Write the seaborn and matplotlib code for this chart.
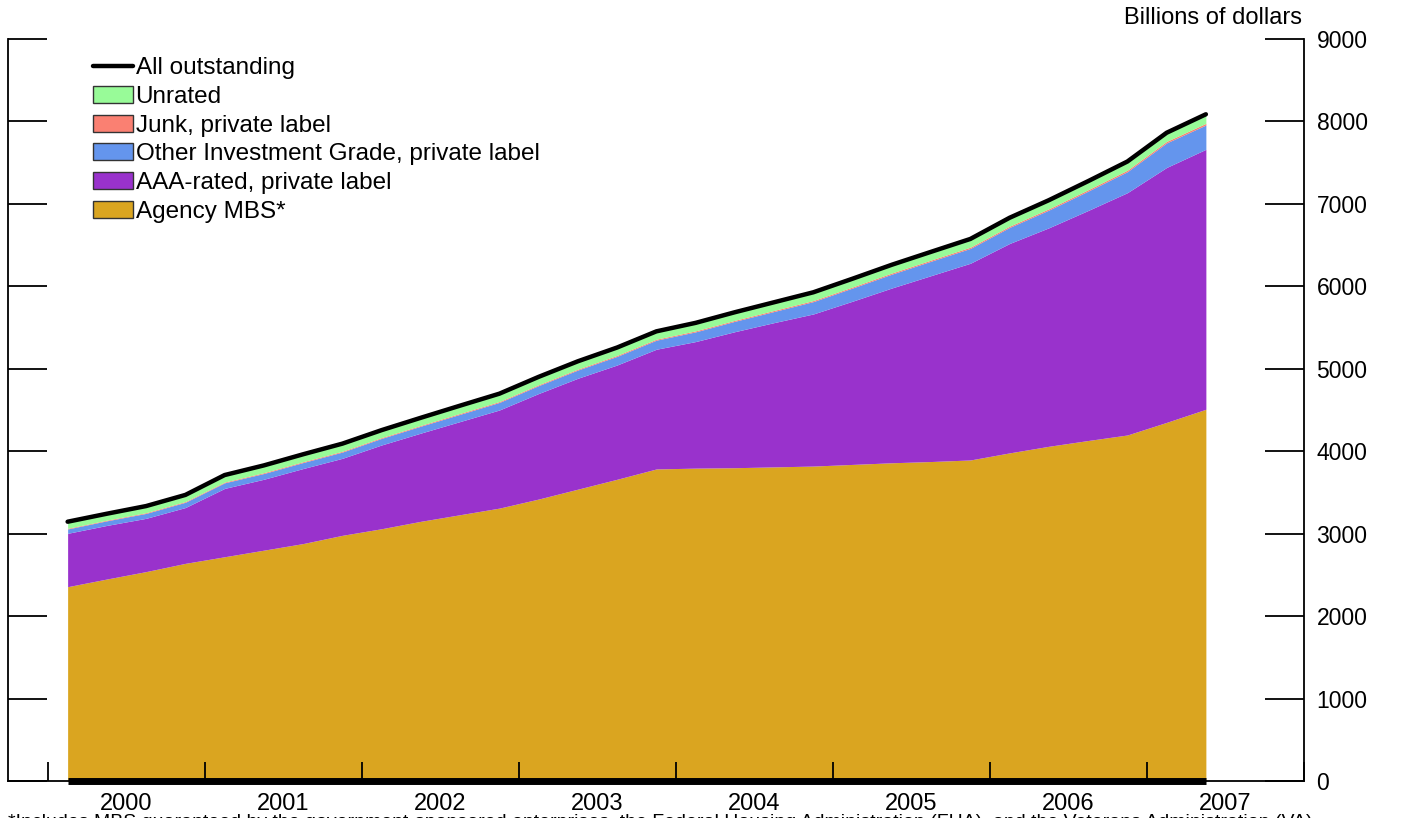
import matplotlib
matplotlib.use("Agg")
import numpy as np
import pandas as pd
import matplotlib.pyplot as plt
import seaborn as sns
from matplotlib.lines import Line2D
from matplotlib.patches import Patch

# quarterly data, billions of dollars
quarters = pd.period_range("2000Q1", "2007Q2", freq="Q")

agency = [2357, 2450, 2540, 2640, 2720, 2800, 2880, 2980, 3060, 3150,
          3230, 3310, 3420, 3540, 3660, 3785, 3795, 3800, 3810, 3820,
          3840, 3860, 3875, 3894, 3980, 4060, 4130, 4197, 4350, 4509]
aaa = [647, 650, 646, 677, 829, 860, 910, 934, 1016, 1070,
       1130, 1190, 1280, 1345, 1386, 1452, 1535, 1650, 1750, 1845,
       1980, 2120, 2255, 2386, 2540, 2650, 2790, 2939, 3092, 3153]
other_ig = [53, 56, 60, 64, 68, 70, 73, 76, 80, 84,
            88, 92, 96, 100, 105, 110, 118, 126, 135, 150,
            160, 168, 175, 180, 195, 215, 235, 255, 298, 295]
junk = [8, 8, 9, 9, 9, 10, 10, 10, 10, 10,
        11, 11, 11, 11, 12, 12, 12, 12, 13, 13,
        13, 14, 14, 15, 15, 16, 17, 18, 18, 20]
unrated = [80, 78, 80, 80, 85, 88, 90, 92, 90, 92,
           94, 95, 95, 95, 95, 95, 97, 98, 99, 100,
           100, 100, 100, 100, 102, 104, 104, 105, 105, 110]

labels = ["Agency MBS*", "AAA-rated, private label",
          "Other Investment Grade, private label", "Junk, private label", "Unrated"]
colors = ["#DAA520", "#9932CC", "#6495ED", "#FA8072", "#98FB98"]
years = list(range(2000, 2008))

df = pd.DataFrame({
    "t": quarters.year + (quarters.quarter - 0.5) / 4,
    "agency": agency, "aaa": aaa, "other_ig": other_ig,
    "junk": junk, "unrated": unrated,
})
df["total"] = df[["agency", "aaa", "other_ig", "junk", "unrated"]].sum(axis=1)

sns.set_theme(style="white")
plt.rcParams["font.family"] = ["Liberation Sans", "DejaVu Sans"]
plt.rcParams["text.color"] = "black"

fig = plt.figure(figsize=(14.02, 8.18), dpi=100)
ax = fig.add_axes([8 / 1402, 1 - 781 / 818, 1296 / 1402, 742 / 818])

ax.stackplot(df["t"], df["agency"], df["aaa"], df["other_ig"], df["junk"], df["unrated"],
             colors=colors, linewidth=0)
sns.lineplot(data=df, x="t", y="total", color="black", linewidth=3.2, ax=ax, legend=False)
ax.plot([df["t"].iloc[0], df["t"].iloc[-1]], [0, 0], color="black", linewidth=5,
        solid_capstyle="butt", clip_on=False, zorder=5)

ax.set_xlim(2000 - 40 / 157, 2008)
ax.set_ylim(0, 9000)
ax.set_xlabel("")
ax.set_ylabel("")
ax.set_axisbelow(False)

# spines
ax.spines["top"].set_visible(False)
for s in ["left", "right", "bottom"]:
    ax.spines[s].set_visible(True)
    ax.spines[s].set_color("black")
    ax.spines[s].set_linewidth(1.3)

# y ticks on both sides, labels on the right
ax.set_yticks(np.arange(0, 9001, 1000))
ax.yaxis.set_ticks_position("both")
ax.tick_params(axis="y", which="major", direction="in", length=28, width=1.3,
               left=True, right=True, labelleft=False, labelright=True,
               labelsize=16.5, pad=9, colors="black")

# x ticks at year boundaries, labels centred on years
ax.set_xticks(years + [2008])
ax.set_xticks([y + 0.5 for y in years], minor=True)
ax.set_xticklabels([])
ax.set_xticklabels([str(y) for y in years], minor=True)
ax.tick_params(axis="x", which="major", direction="in", length=14, width=1.3,
               bottom=True, colors="black")
ax.tick_params(axis="x", which="minor", length=0, labelsize=17, pad=9,
               labelcolor="black")
for lbl in ax.get_xticklabels(minor=True):
    lbl.set_family(["Liberation Sans Narrow", "Liberation Sans"])
ax.grid(False)

fig.text(1302 / 1402, 1 - 18 / 818, "Billions of dollars", ha="right", va="center",
         fontsize=17, color="black")
# footnote, cut by the bottom edge as in the source
fig.text(8 / 1402, 1 - 814 / 818, "*Includes MBS guaranteed by the government-sponsored "
         "enterprises, the Federal Housing Administration (FHA), and the Veterans "
         "Administration (VA).", ha="left", va="top", fontsize=14, color="black")

# legend
handles = [Line2D([0], [0], color="black", linewidth=3.2)]
handles += [Patch(facecolor=c, edgecolor="#333333", linewidth=1)
            for c in colors[::-1]]
leg = ax.legend(handles, ["All outstanding"] + labels[::-1],
                loc="upper left", bbox_to_anchor=(93 / 1402, 1 - 57 / 818),
                bbox_transform=fig.transFigure, frameon=False, fontsize=17.5,
                handlelength=1.65, handleheight=0.7, handletextpad=0.1,
                labelspacing=0.28, borderpad=0, borderaxespad=0)
for t in leg.get_texts():
    t.set_color("black")

fig.savefig("out.png", dpi=100)
